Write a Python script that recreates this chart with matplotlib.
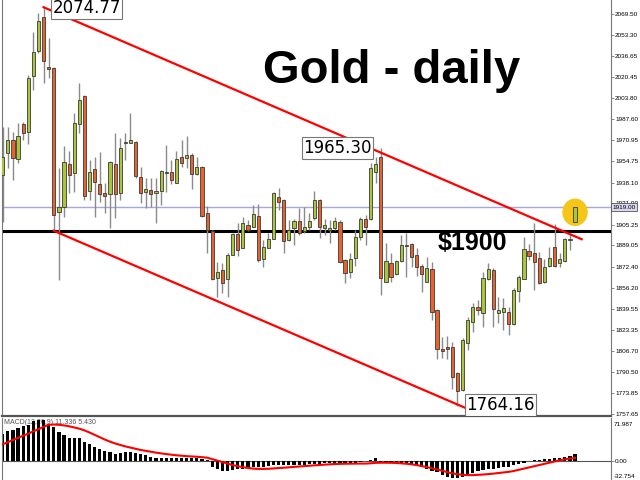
import numpy as np
import matplotlib.pyplot as plt
from matplotlib.patches import Ellipse

# daily OHLC
opens = [1944.0, 1961.1, 1971.3, 1956.4, 1983.7, 1977.5, 2021.2, 2040.7, 2067.2, 2028.2,
         2027.4, 1915.1, 1919.0, 1952.6, 1945.5, 1983.7, 2005.6, 1931.5, 1948.7, 1937.0,
         1930.0, 1929.2, 1952.6, 1930.0, 1968.9, 1968.9, 1969.7, 1942.4, 1930.7, 1932.3,
         1930.0, 1931.5, 1946.3, 1946.3, 1937.7, 1958.0, 1957.2, 1959.6, 1944.8, 1950.2,
         1914.3, 1900.3, 1863.7, 1869.9, 1862.9, 1881.6, 1898.0, 1887.1, 1905.0, 1903.4,
         1912.0, 1878.5, 1887.1, 1894.1, 1926.8, 1924.5, 1893.3, 1902.7, 1908.1, 1900.3,
         1903.4, 1910.4, 1924.5, 1902.7, 1901.1, 1902.7, 1907.3, 1877.7, 1868.3, 1879.3,
         1895.6, 1909.7, 1909.7, 1946.3, 1958.0, 1860.6, 1875.4, 1866.8, 1876.9, 1888.6,
         1890.2, 1881.6, 1873.0, 1860.6, 1870.7, 1838.7, 1808.3, 1809.9, 1809.9, 1789.6,
         1776.4, 1813.0, 1829.4, 1841.1, 1836.4, 1862.9, 1869.9, 1836.4, 1837.2, 1837.2,
         1827.8, 1853.5, 1862.9, 1884.7, 1883.2, 1879.3, 1860.6, 1873.0, 1887.8, 1875.4,
         1876.9, 1893.3, 1907.3]
highs = [1981.4, 1981.4, 1977.5, 1984.5, 1985.3, 2021.9, 2055.5, 2070.3, 2074.77, 2050.8,
         2028.0, 1949.4, 1966.6, 1962.7, 1992.3, 2015.7, 2006.3, 1955.7, 1958.0, 1961.9,
         1937.7, 1954.9, 1976.7, 1972.8, 1976.7, 1992.3, 1970.5, 1950.2, 1941.6, 1941.6,
         1941.6, 1947.9, 1967.4, 1955.7, 1962.7, 1971.3, 1974.4, 1961.1, 1958.0, 1951.0,
         1919.8, 1901.1, 1876.2, 1875.4, 1883.2, 1898.8, 1906.6, 1911.2, 1908.9, 1920.6,
         1921.4, 1893.3, 1898.8, 1930.7, 1933.8, 1925.3, 1908.9, 1909.7, 1918.2, 1919.0,
         1914.3, 1931.5, 1925.3, 1909.7, 1908.9, 1911.2, 1908.9, 1878.5, 1883.2, 1901.1,
         1911.2, 1912.8, 1953.3, 1958.0, 1965.30, 1891.0, 1883.2, 1877.7, 1897.2, 1898.8,
         1891.0, 1887.1, 1874.6, 1880.0, 1876.2, 1839.5, 1817.7, 1818.5, 1813.8, 1790.4,
         1816.9, 1833.3, 1844.2, 1846.5, 1868.3, 1875.4, 1871.5, 1848.9, 1848.1, 1841.1,
         1855.9, 1866.0, 1895.6, 1890.2, 1906.6, 1884.0, 1878.5, 1887.8, 1905.8, 1883.2,
         1894.9, 1898.0, 1919.5]
lows = [1907.3, 1949.4, 1940.1, 1953.3, 1971.3, 1968.2, 2010.3, 2039.1, 2015.7, 2019.6,
        1900.5, 1862.1, 1911.2, 1930.0, 1930.7, 1976.7, 1924.5, 1924.5, 1911.2, 1922.9,
        1914.3, 1902.7, 1910.4, 1924.5, 1955.7, 1968.9, 1941.6, 1922.1, 1918.2, 1919.0,
        1906.6, 1920.6, 1930.7, 1936.9, 1937.7, 1950.2, 1949.4, 1933.1, 1944.0, 1911.2,
        1883.2, 1862.1, 1848.9, 1852.0, 1848.9, 1881.6, 1880.8, 1887.1, 1900.3, 1903.4,
        1876.2, 1872.3, 1887.1, 1894.1, 1916.7, 1883.2, 1892.5, 1889.4, 1897.2, 1898.8,
        1901.1, 1908.9, 1894.9, 1897.2, 1891.0, 1901.1, 1875.4, 1859.8, 1863.7, 1873.0,
        1893.3, 1889.4, 1908.9, 1937.7, 1850.4, 1860.6, 1860.6, 1866.0, 1876.2, 1864.4,
        1872.3, 1865.2, 1852.8, 1860.6, 1830.9, 1800.5, 1801.3, 1800.5, 1777.1, 1764.16,
        1775.6, 1807.6, 1821.6, 1834.8, 1825.5, 1862.1, 1825.5, 1828.6, 1823.1, 1819.2,
        1827.0, 1845.0, 1862.9, 1877.7, 1854.3, 1859.0, 1859.8, 1872.3, 1872.3, 1872.3,
        1876.2, 1885.5, 1906.5]
closes = [1958.0, 1971.3, 1957.2, 1974.4, 1976.7, 2019.6, 2039.9, 2064.0, 2032.9, 2026.6,
          1912.8, 1919.0, 1954.1, 1944.0, 1984.5, 2002.5, 1927.6, 1946.3, 1938.5, 1929.2,
          1927.6, 1954.1, 1929.2, 1965.0, 1969.7, 1971.3, 1943.2, 1930.0, 1933.1, 1929.2,
          1931.5, 1947.1, 1945.5, 1940.1, 1956.4, 1953.3, 1959.6, 1944.8, 1950.2, 1912.0,
          1901.1, 1862.9, 1868.3, 1859.8, 1881.6, 1898.0, 1885.5, 1906.6, 1901.1, 1913.6,
          1877.7, 1887.8, 1894.1, 1929.9, 1922.9, 1892.5, 1901.1, 1908.1, 1898.8, 1903.4,
          1908.1, 1924.5, 1903.4, 1905.0, 1902.7, 1908.1, 1876.2, 1867.6, 1878.5, 1895.6,
          1909.7, 1903.4, 1949.4, 1952.6, 1863.7, 1876.9, 1864.4, 1876.9, 1889.4, 1889.4,
          1880.0, 1872.3, 1866.8, 1871.5, 1837.2, 1808.3, 1806.8, 1808.3, 1786.5, 1775.6,
          1815.4, 1830.9, 1841.1, 1838.7, 1863.7, 1870.7, 1839.5, 1838.7, 1840.3, 1827.8,
          1854.3, 1864.4, 1886.3, 1880.8, 1876.2, 1859.8, 1872.3, 1879.3, 1873.0, 1878.5,
          1894.1, 1894.1, 1919.0]

macd_hist = [45.6, 49.5, 52.4, 55.2, 58.0, 60.8, 66.4, 69.3, 68.0, 62.5,
             56.9, 48.5, 42.8, 38.3, 38.3, 38.3, 31.6, 28.7, 23.1, 19.1,
             16.4, 14.7, 11.8, 13.5, 14.7, 14.7, 13.5, 10.7, 9.0, 6.2,
             5.1, 4.5, 4.5, 4.5, 4.5, 5.1, 5.1, 4.5, 4.5, 3.4,
             0.5, -10.6, -14.6, -18.0, -18.0, -16.3, -14.6, -13.5, -12.4, -10.6,
             -10.6, -10.6, -9.5, -6.8, -7.9, -7.9, -7.9, -7.9, -6.8, -6.8,
             -6.2, -5.1, -5.1, -4.0, -4.0, -5.0, -6.0, -5.0, -4.5, -3.5,
             -2.5, -1.5, 1.5, 4.5, -2.0, -3.5, -4.0, -4.5, -4.0, -5.0,
             -6.5, -8.5, -11.0, -13.5, -17.0, -20.0, -24.0, -28.0, -30.0, -29.0,
             -27.0, -24.0, -21.0, -18.0, -16.0, -15.0, -14.0, -12.5, -11.0, -10.0,
             -8.0, -6.0, -4.0, -1.5, 0.5, 1.5, 2.2, 3.0, 4.0, 4.5,
             6.0, 7.5, 11.8]
macd_signal = [27.5, 31.0, 35.0, 38.5, 42.0, 45.5, 49.5, 53.0, 57.0, 60.5,
               61.0, 60.5, 59.5, 58.0, 56.0, 54.0, 51.0, 47.5, 43.5, 39.5,
               35.5, 32.0, 29.0, 26.5, 24.0, 22.0, 20.0, 18.0, 16.5, 15.0,
               13.5, 12.2, 11.0, 10.0, 9.0, 8.3, 7.5, 7.0, 6.5, 5.8,
               5.0, 2.5, 0.0, -2.5, -5.0, -7.5, -9.5, -11.0, -12.5, -13.5,
               -14.0, -14.0, -13.8, -13.2, -12.5, -12.0, -11.3, -10.6, -10.0, -9.3,
               -8.7, -8.0, -7.4, -6.8, -6.3, -5.8, -5.5, -5.3, -5.2, -5.1,
               -5.0, -5.0, -4.5, -3.8, -3.6, -3.6, -3.7, -4.0, -4.6, -5.3,
               -6.2, -7.5, -9.2, -11.0, -13.0, -15.0, -17.0, -19.5, -21.5, -23.0,
               -24.0, -24.5, -24.5, -24.0, -23.5, -22.8, -22.0, -21.0, -20.0, -19.0,
               -17.5, -15.5, -13.5, -11.5, -9.5, -7.5, -5.5, -3.5, -1.5, 0.5,
               2.0, 3.5, 4.5]

price_ticks = [2069.50, 2053.30, 2036.65, 2020.45, 2003.80, 1987.60, 1970.95, 1954.75,
               1938.10, 1921.90, 1905.25, 1889.05, 1872.40, 1856.20, 1839.55, 1823.35,
               1806.70, 1790.50, 1773.85, 1757.65]

# channel lines: (bar index, price) end points
upper_chan = ([8, 113.3], [2074.77, 1893.9])
lower_chan = ([10, 100], [1900.5, 1746.2])

W, H = 640, 480
def px_box(l, t, r, b):
    return [l / W, 1 - b / H, (r - l) / W, (b - t) / H]

tick_font = dict(family='Liberation Sans', size=4.6)

fig = plt.figure(figsize=(6.4, 4.8), dpi=100)
ax = fig.add_axes(px_box(2, 0, 611, 416))
ax2 = fig.add_axes(px_box(2, 418, 611, 480))

o = np.array(opens); h = np.array(highs); l = np.array(lows); c = np.array(closes)
x = np.arange(len(o))
up = c >= o
lo = np.minimum(o, c)
hh = np.maximum(np.abs(c - o), 0.8)

ax.axhline(1919.0, color='#a6a6e0', lw=1.0, zorder=1)
ax.axhline(1900.0, color='black', lw=2.2, zorder=1)
ax.vlines(x, l, h, color='#8a8a8a', lw=1.0, zorder=2)
ax.bar(x[up], hh[up], bottom=lo[up], width=0.62, color='#a9c63a',
       edgecolor='#3a3a3a', lw=0.6, zorder=3)
ax.bar(x[~up], hh[~up], bottom=lo[~up], width=0.62, color='#e9622c',
       edgecolor='#3a3a3a', lw=0.6, zorder=3)
ax.plot(*upper_chan, color='#ff0000', lw=1.6, zorder=4)
ax.plot(*lower_chan, color='#ff0000', lw=1.6, zorder=4)
ax.add_patch(Ellipse((112, 1914.9), 4.7, 20.3, color='#f5c518', zorder=2.5))

ax.set_xlim(-0.14, 119.04)
ax.set_ylim(1756.1, 2080.41)
ax.yaxis.tick_right()
ax.set_yticks(price_ticks)
ax.set_yticklabels([f'{t:.2f}' for t in price_ticks], fontdict=tick_font)
ax.tick_params(axis='y', length=2, width=0.6, color='#777777', pad=1)
ax.set_xticks([])
ax.spines['top'].set_visible(False)
for s in ['left', 'right']:
    ax.spines[s].set_color('#777777')
ax.spines['bottom'].set_color('#555555')
ax.spines['bottom'].set_linewidth(1.6)

box = dict(boxstyle='square,pad=0.1', fc='white', ec='#777777', lw=0.8)
ax.text(9.7, 2074.2, '2074.77', fontsize=12, va='center', ha='left', bbox=box, zorder=6, clip_on=True)
ax.text(58.8, 1965.0, '1965.30', fontsize=12, va='center', ha='left', bbox=box, zorder=6, clip_on=True)
ax.text(90.7, 1764.7, '1764.16', fontsize=12, va='center', ha='left', bbox=box, zorder=6, clip_on=True)
ax.text(1.002, 1919.0, '1919.00', transform=ax.get_yaxis_transform(), fontdict=tick_font,
        va='center', ha='left',
        bbox=dict(boxstyle='square,pad=0.2', fc='#d8d8f0', ec='#555555', lw=0.6),
        zorder=7, clip_on=False)

fig.text(392 / W, 1 - 83 / H, 'Gold - daily', family='Liberation Sans', weight='bold',
         fontsize=34, ha='center', va='baseline')
fig.text(438 / W, 1 - 250 / H, '$1900', family='Liberation Sans', weight='bold',
         fontsize=18, ha='left', va='baseline')

# MACD panel
ax2.bar(x, macd_hist, width=0.62, color='black', zorder=2)
ax2.plot(x, macd_signal, color='#ff0000', lw=1.5, zorder=3)
ax2.axhline(0, color='#555555', lw=0.8, zorder=1)
ax2.set_xlim(-0.14, 119.04)
ax2.set_ylim(-32.754, 71.987)
ax2.yaxis.tick_right()
ax2.set_yticks([0])
ax2.set_yticklabels(['0.00'], fontdict=tick_font)
ax2.tick_params(axis='y', length=2, width=0.6, color='#777777', pad=1)
ax2.set_xticks([])
ax2.text(1.004, 0.9, '71.987', transform=ax2.transAxes, fontdict=tick_font, va='center', ha='left')
ax2.text(1.004, 0.05, '-32.754', transform=ax2.transAxes, fontdict=tick_font, va='center', ha='left')
ax2.text(0.3, 64, 'MACD(12,26,9) 11.336 5.430', family='Liberation Sans', fontsize=5,
         color='#555555', va='center', zorder=1)
ax2.spines['top'].set_visible(False)
ax2.spines['bottom'].set_visible(False)
for s in ['left', 'right']:
    ax2.spines[s].set_color('#777777')

fig.savefig('out.png', dpi=100)
